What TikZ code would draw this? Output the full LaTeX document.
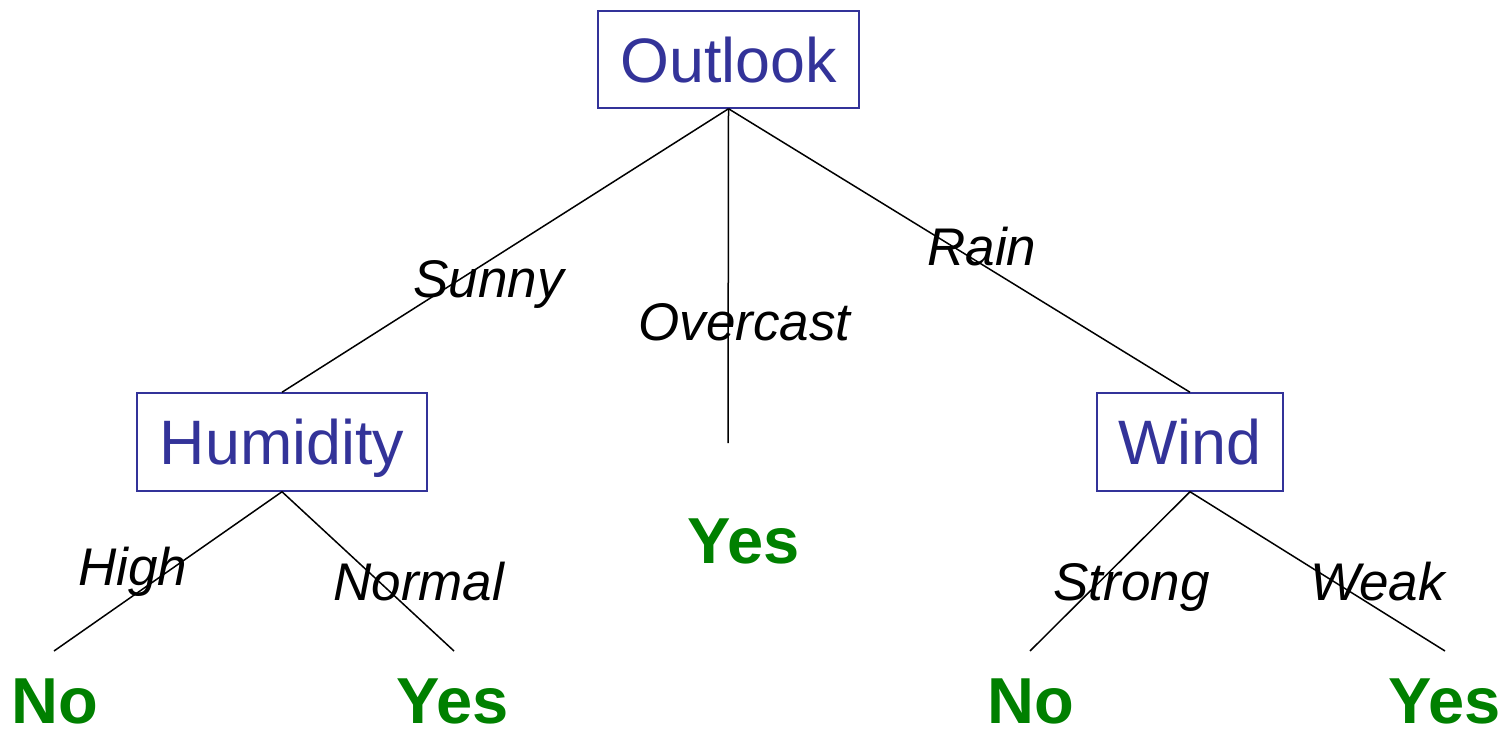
\documentclass[tikz,border=0pt]{standalone}
\usepackage{fontspec}
\setmainfont{Liberation Sans}
\definecolor{boxblue}{HTML}{333399}
\definecolor{leafgreen}{HTML}{008000}
\begin{document}
\begin{tikzpicture}[x=0.5pt,y=-0.5pt,
  attr/.style={draw=boxblue,line width=0.75pt,text=boxblue,font=\fontsize{31.4}{36}\selectfont,
    text height=22.5pt,text depth=0pt,inner sep=0pt,anchor=center},
  leaf/.style={text=leafgreen,font=\fontsize{32.5}{38}\selectfont\bfseries,inner sep=0pt,anchor=base},
  elab/.style={font=\fontsize{26.5}{30}\selectfont\itshape,inner sep=0pt,anchor=base west},
  edge/.style={line width=0.75pt,black}]
\useasboundingbox (0,0) rectangle (1509,728);
% attribute nodes
\node[attr,minimum width=130.5pt,minimum height=48.5pt] (outlook) at (728.5,59.5) {Outlook};
\node[attr,minimum width=145pt,minimum height=49pt] (humidity) at (282,442) {Humidity};
\node[attr,minimum width=93pt,minimum height=49pt] (wind) at (1190,442) {Wind};
% leaves
\node[leaf] (no1) at (55,723) {No};
\node[leaf] (yes1) at (453,723) {Yes};
\node[leaf] (yes2) at (744,563) {Yes};
\node[leaf] (no2) at (1031,723) {No};
\node[leaf] (yes3) at (1445,723) {Yes};
% free ends of connectors
\coordinate (eHigh) at (54,651);
\coordinate (eNormal) at (454,651);
\coordinate (eOver) at (728,443);
\coordinate (eStrong) at (1030,651);
\coordinate (eWeak) at (1445,651);
% connectors
\draw[edge] (outlook.south) -- (humidity.north);
\draw[edge] (outlook.south) -- (eOver);
\draw[edge] (outlook.south) -- (wind.north);
\draw[edge] (humidity.south) -- (eHigh);
\draw[edge] (humidity.south) -- (eNormal);
\draw[edge] (wind.south) -- (eStrong);
\draw[edge] (wind.south) -- (eWeak);
% edge labels
\node[elab] (lSunny) at (413,297) {Sunny};
\node[elab] (lOver) at (638,340) {Overcast};
\node[elab] (lRain) at (927,265) {Rain};
\node[elab] (lHigh) at (78,585) {High};
\node[elab] (lNormal) at (333,600) {Normal};
\node[elab] (lStrong) at (1053,600) {Strong};
\node[elab] (lWeak) at (1310,600) {Weak};
\end{tikzpicture}
\end{document}
